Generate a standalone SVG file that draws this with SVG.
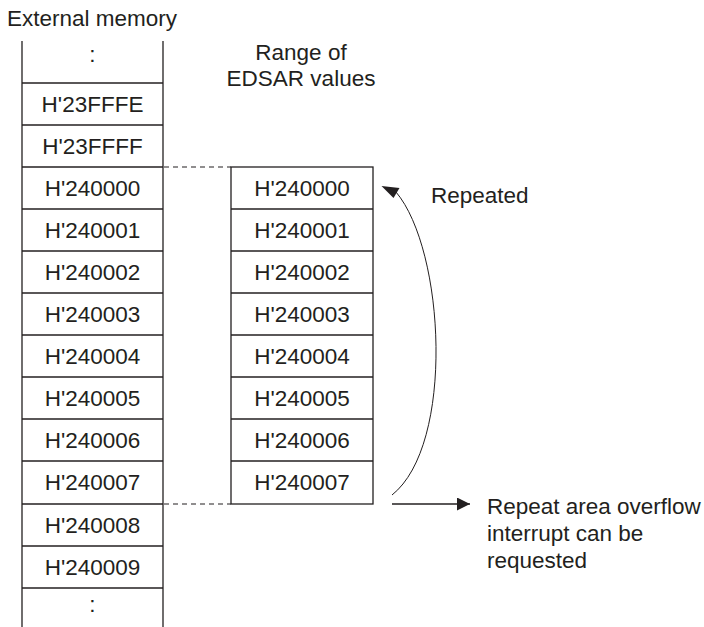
<svg xmlns="http://www.w3.org/2000/svg" width="704" height="627" viewBox="0 0 704 627">
<style>
  text { font-family: "Liberation Sans", Arial, sans-serif; font-size: 22.5px; fill: #231f20; }
  .c { text-anchor: middle; }
  .box { fill: #fff; stroke: #231f20; stroke-width: 1.3; }
  .ln { stroke: #231f20; stroke-width: 1.3; fill: none; }
  .dash { stroke: #231f20; stroke-width: 1.1; stroke-dasharray: 5 4; fill: none; }
  .thin { stroke: #231f20; stroke-width: 1; fill: none; }
  .head { fill: #231f20; }
</style>
<defs>
  <marker id="ah" viewBox="0 0 10 10" refX="10" refY="5" markerWidth="18" markerHeight="13" markerUnits="userSpaceOnUse" orient="auto">
    <path d="M0,0 L10,5 L0,10 Z" fill="#231f20"/>
  </marker>
</defs>
<rect width="704" height="627" fill="#fff"/>
<text x="7" y="26">External memory</text>
<text class="c" x="301" y="60">Range of</text>
<text class="c" x="301" y="86">EDSAR values</text>

<g id="external-memory">
  <line class="ln" x1="22" y1="41" x2="22" y2="627"/>
  <line class="ln" x1="163" y1="41" x2="163" y2="627"/>
  <line class="ln" x1="22" y1="83" x2="163" y2="83"/>
  <line class="ln" x1="22" y1="125" x2="163" y2="125"/>
  <line class="ln" x1="22" y1="167" x2="163" y2="167"/>
  <line class="ln" x1="22" y1="209" x2="163" y2="209"/>
  <line class="ln" x1="22" y1="251" x2="163" y2="251"/>
  <line class="ln" x1="22" y1="293" x2="163" y2="293"/>
  <line class="ln" x1="22" y1="335" x2="163" y2="335"/>
  <line class="ln" x1="22" y1="377" x2="163" y2="377"/>
  <line class="ln" x1="22" y1="419" x2="163" y2="419"/>
  <line class="ln" x1="22" y1="461" x2="163" y2="461"/>
  <line class="ln" x1="22" y1="504" x2="163" y2="504"/>
  <line class="ln" x1="22" y1="546" x2="163" y2="546"/>
  <line class="ln" x1="22" y1="588" x2="163" y2="588"/>
  <text class="c" x="92.5" y="62">:</text>
  <text class="c" x="92.5" y="112">H'23FFFE</text>
  <text class="c" x="92.5" y="154">H'23FFFF</text>
  <text class="c" x="92.5" y="196">H'240000</text>
  <text class="c" x="92.5" y="238">H'240001</text>
  <text class="c" x="92.5" y="280">H'240002</text>
  <text class="c" x="92.5" y="322">H'240003</text>
  <text class="c" x="92.5" y="364">H'240004</text>
  <text class="c" x="92.5" y="406">H'240005</text>
  <text class="c" x="92.5" y="448">H'240006</text>
  <text class="c" x="92.5" y="490">H'240007</text>
  <text class="c" x="92.5" y="533">H'240008</text>
  <text class="c" x="92.5" y="575">H'240009</text>
  <text class="c" x="92.5" y="612">:</text>
</g>

<g id="edsar-range">
  <rect class="box" x="231" y="167" width="142" height="337"/>
  <line class="ln" x1="231" y1="209" x2="373" y2="209"/>
  <line class="ln" x1="231" y1="251" x2="373" y2="251"/>
  <line class="ln" x1="231" y1="293" x2="373" y2="293"/>
  <line class="ln" x1="231" y1="335" x2="373" y2="335"/>
  <line class="ln" x1="231" y1="377" x2="373" y2="377"/>
  <line class="ln" x1="231" y1="419" x2="373" y2="419"/>
  <line class="ln" x1="231" y1="461" x2="373" y2="461"/>
  <text class="c" x="302" y="196">H'240000</text>
  <text class="c" x="302" y="238">H'240001</text>
  <text class="c" x="302" y="280">H'240002</text>
  <text class="c" x="302" y="322">H'240003</text>
  <text class="c" x="302" y="364">H'240004</text>
  <text class="c" x="302" y="406">H'240005</text>
  <text class="c" x="302" y="448">H'240006</text>
  <text class="c" x="302" y="490">H'240007</text>
</g>

<g id="connectors">
  <line class="dash" x1="164" y1="167" x2="231" y2="167"/>
  <line class="dash" x1="164" y1="504" x2="231" y2="504"/>
  <path class="thin" d="M392,495 C455,445 445,250 396,192"/>
  <polygon class="head" points="381.5,186 399.5,188 393.5,198"/>
  <line class="ln" x1="392" y1="504" x2="470" y2="504" marker-end="url(#ah)"/>
</g>

<g id="labels">
  <text x="431" y="203">Repeated</text>
  <text x="487" y="514">Repeat area overflow</text>
  <text x="487" y="541">interrupt can be</text>
  <text x="487" y="568">requested</text>
</g>
</svg>
